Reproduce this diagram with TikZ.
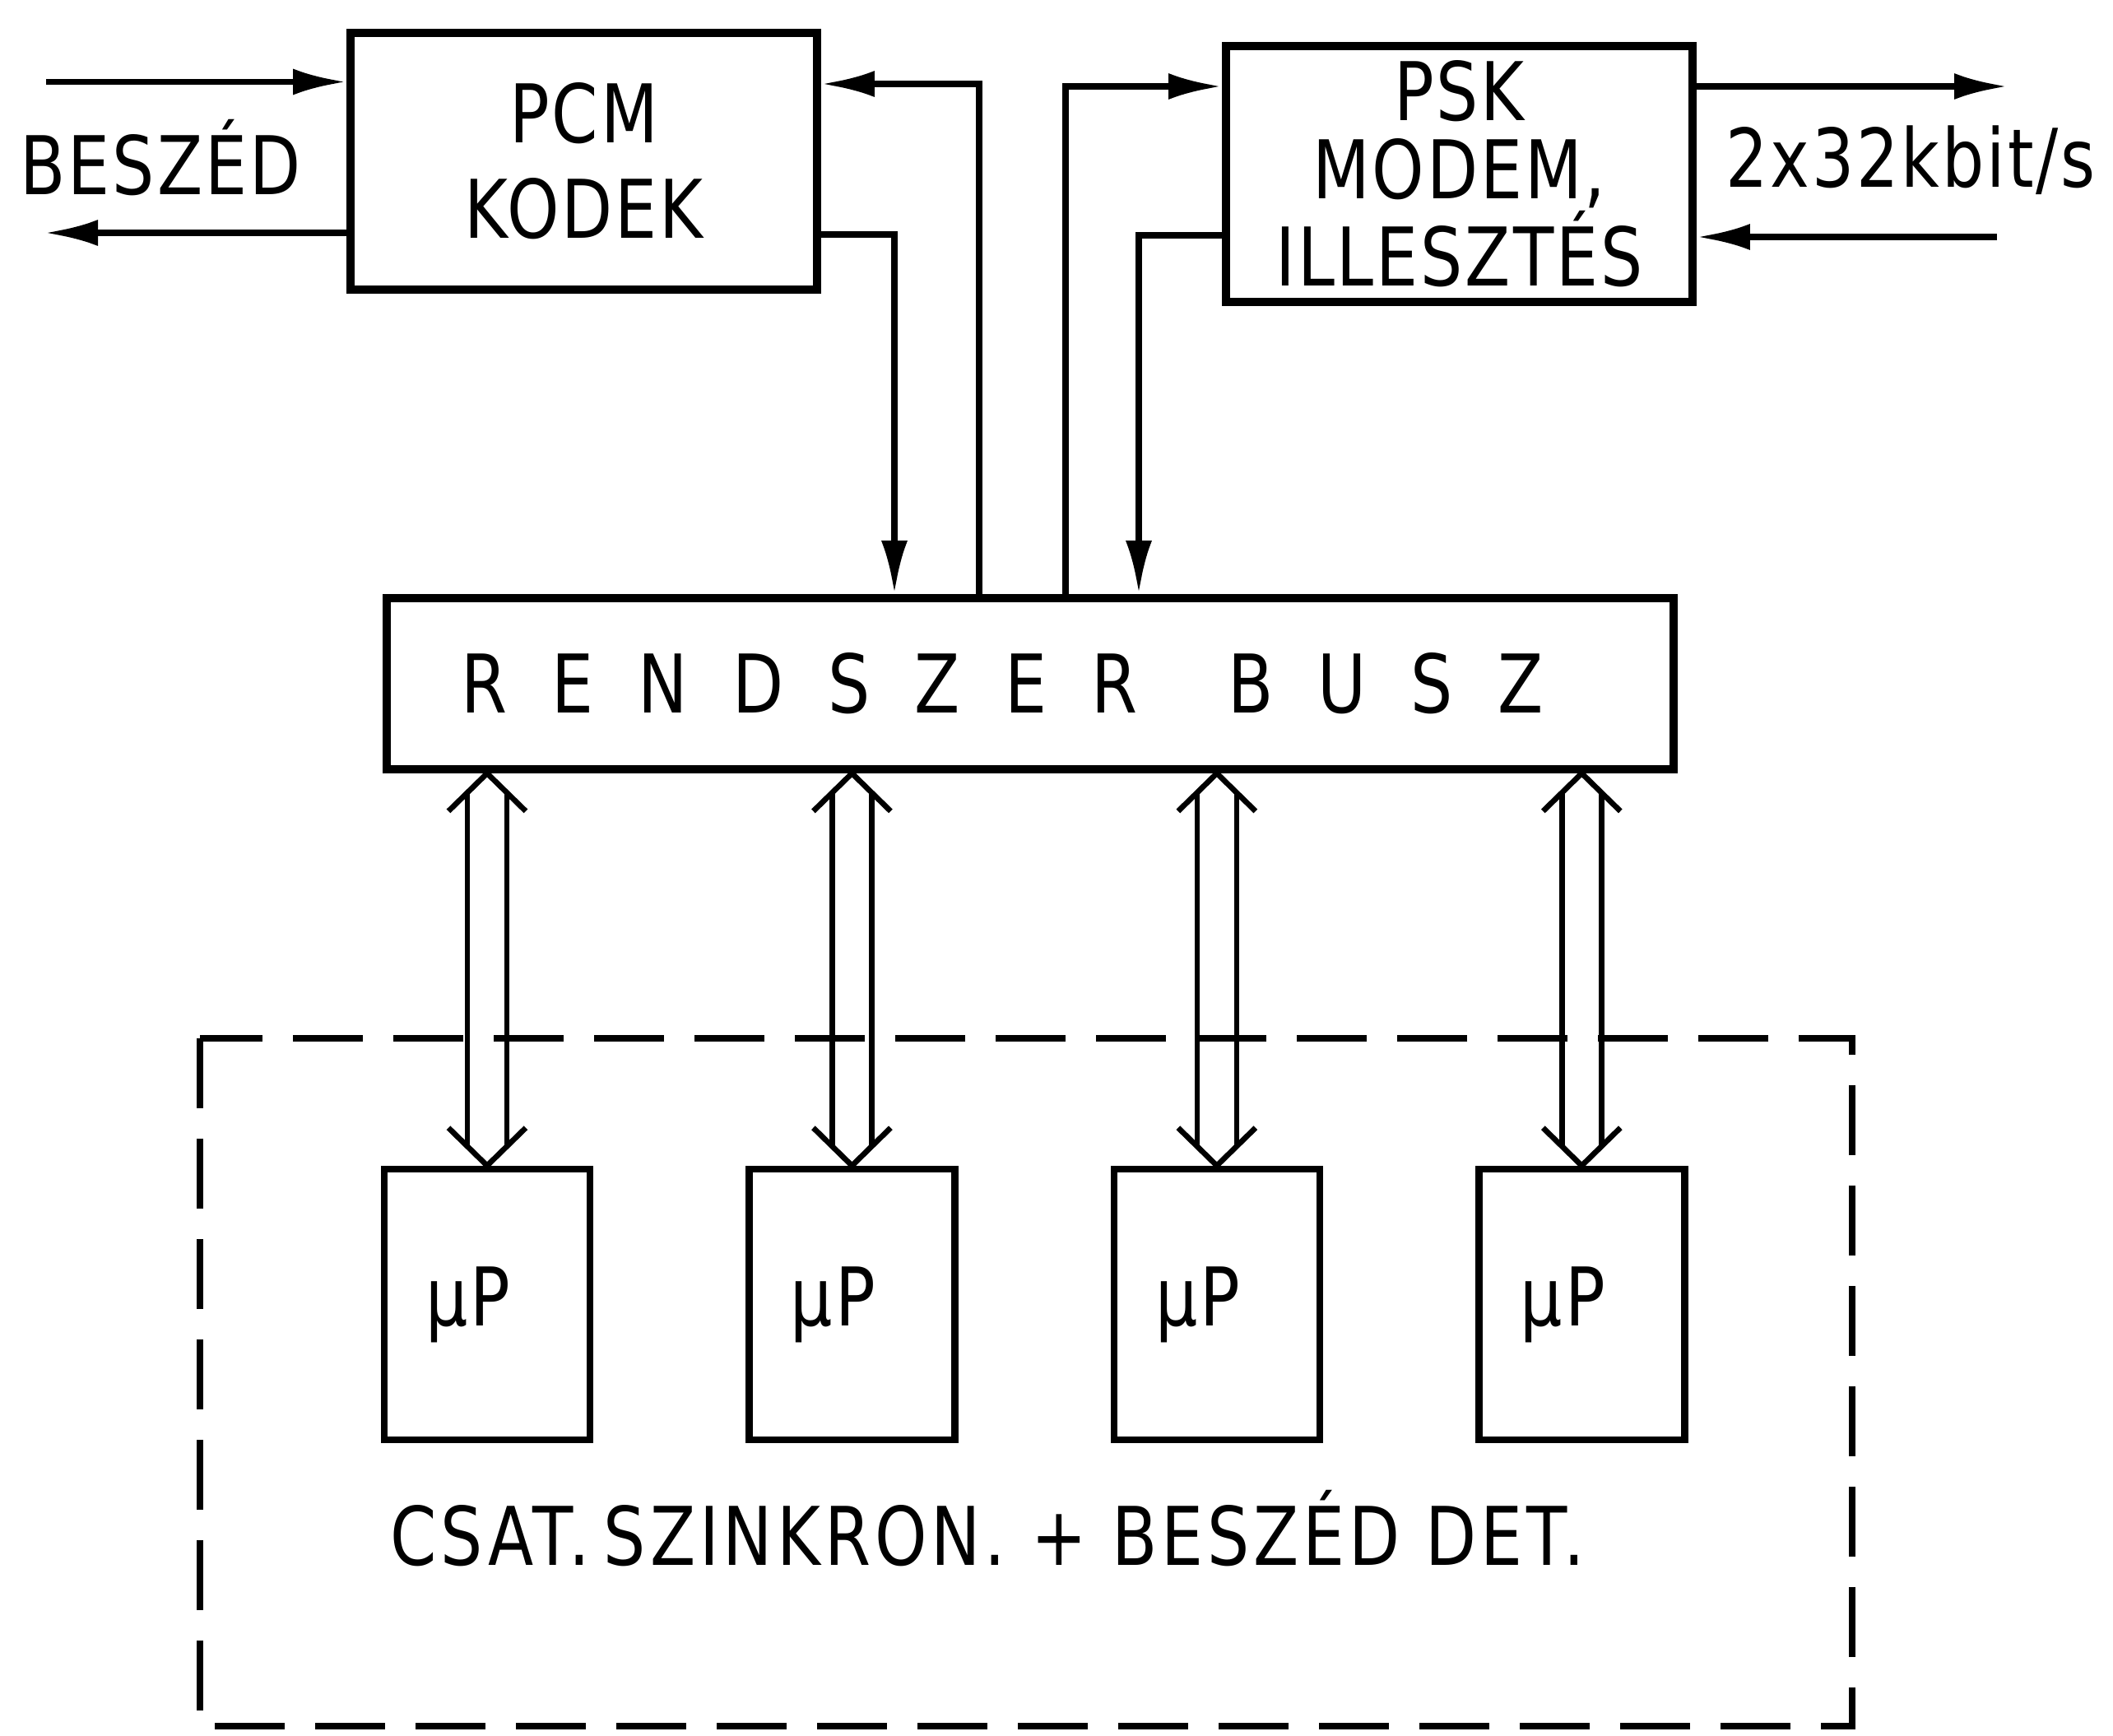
\documentclass[tikz,border=0pt]{standalone}
\usepackage{fontspec}
\setmainfont{DejaVu Sans}[FakeStretch=0.82,LetterSpace=3]
\usetikzlibrary{arrows.meta,positioning,calc}

\begin{document}
\begin{tikzpicture}[
  font=\fontsize{28}{33}\selectfont,
  node distance=1.85cm,
  block/.style={rectangle,draw,line width=2.8pt,minimum width=5.67cm,minimum height=3.12cm,align=center,inner sep=0pt},
  cpu/.style={rectangle,draw,line width=2.4pt,minimum width=2.5cm,minimum height=3.29cm,inner sep=0pt},
  sig/.style={line width=2.2pt},
  tip/.style={-{Latex[length=6.5mm,width=3.2mm]}},
  link/.style={line width=1.9pt},
  frame/.style={line width=2.5pt,dash pattern=on 0.85cm off 0.37cm}]
  \useasboundingbox (0,0) rectangle (25.68,-21.10);
  % upper blocks
  \node[block] (pcm) at (7.095,-1.96) {PCM\\KODEK};
  \node[block,minimum height=3.11cm,font=\fontsize{28}{27}\selectfont] (psk) at (17.735,-2.115) {PSK\\MODEM,\\ILLESZTÉS};
  \node[block,minimum width=15.64cm,minimum height=2.08cm] (bus) at (12.52,-8.31) {\addfontfeature{LetterSpace=55}RENDSZER\hspace{0.3cm} BUSZ\kern0.68cm};
  \node[anchor=base] (speech) at (1.95,-2.36) {BESZÉD};
  \node[anchor=base] (rate) at (23.22,-2.27) {2x32kbit/s};
  % processors
  \node[cpu] (m1) at (5.92,-15.855) {µP\kern0.46cm};
  \node[cpu,right=of m1] (m2) {µP\kern0.46cm};
  \node[cpu,right=of m2] (m3) {µP\kern0.46cm};
  \node[cpu,right=of m3] (m4) {µP\kern0.46cm};
  \draw[frame] (2.43,-12.62) rectangle (22.51,-20.98);
  \node[anchor=base] (grp) at (12.0,-19.02) {\addfontfeature{LetterSpace=5}CSAT.\,SZINKRON. + BESZÉD DET.};
  % signal lines
  \coordinate (spin) at (0.56,-0.995);
  \coordinate (spout) at (0.54,-2.83);
  \coordinate (lnout) at (24.40,-1.05);
  \coordinate (lnin) at (24.27,-2.88);
  \draw[sig,tip] (spin) -- (spin -| pcm.west);
  \draw[sig,tip] (spout -| pcm.west) -- (spout);
  \draw[sig,tip] ([xshift=-0.62cm]bus.north) |- ([yshift=0.94cm]pcm.east);
  \draw[sig,tip] ([yshift=-0.89cm]pcm.east) -| ([xshift=-1.65cm]bus.north);
  \draw[sig,tip] ([xshift=0.43cm]bus.north) |- ([yshift=1.065cm]psk.west);
  \draw[sig,tip] ([yshift=-0.745cm]psk.west) -| ([xshift=1.32cm]bus.north);
  \draw[sig,tip] (lnout -| psk.east) -- (lnout);
  \draw[sig,tip] (lnin) -- (lnin -| psk.east);
  % bus to processors
  \foreach \m in {m1,m2,m3,m4} {
    \coordinate (top) at (bus.south -| \m.north);
    \draw[link] ($(top)+(-0.47,-0.46)$) -- (top) -- ($(top)+(0.47,-0.46)$);
    \draw[link] ($(\m.north)+(-0.47,0.46)$) -- (\m.north) -- ($(\m.north)+(0.47,0.46)$);
    \draw[link] ($(top)+(-0.24,-0.235)$) -- ($(\m.north)+(-0.24,0.235)$);
    \draw[link] ($(top)+(0.24,-0.235)$) -- ($(\m.north)+(0.24,0.235)$);
  }
\end{tikzpicture}
\end{document}
